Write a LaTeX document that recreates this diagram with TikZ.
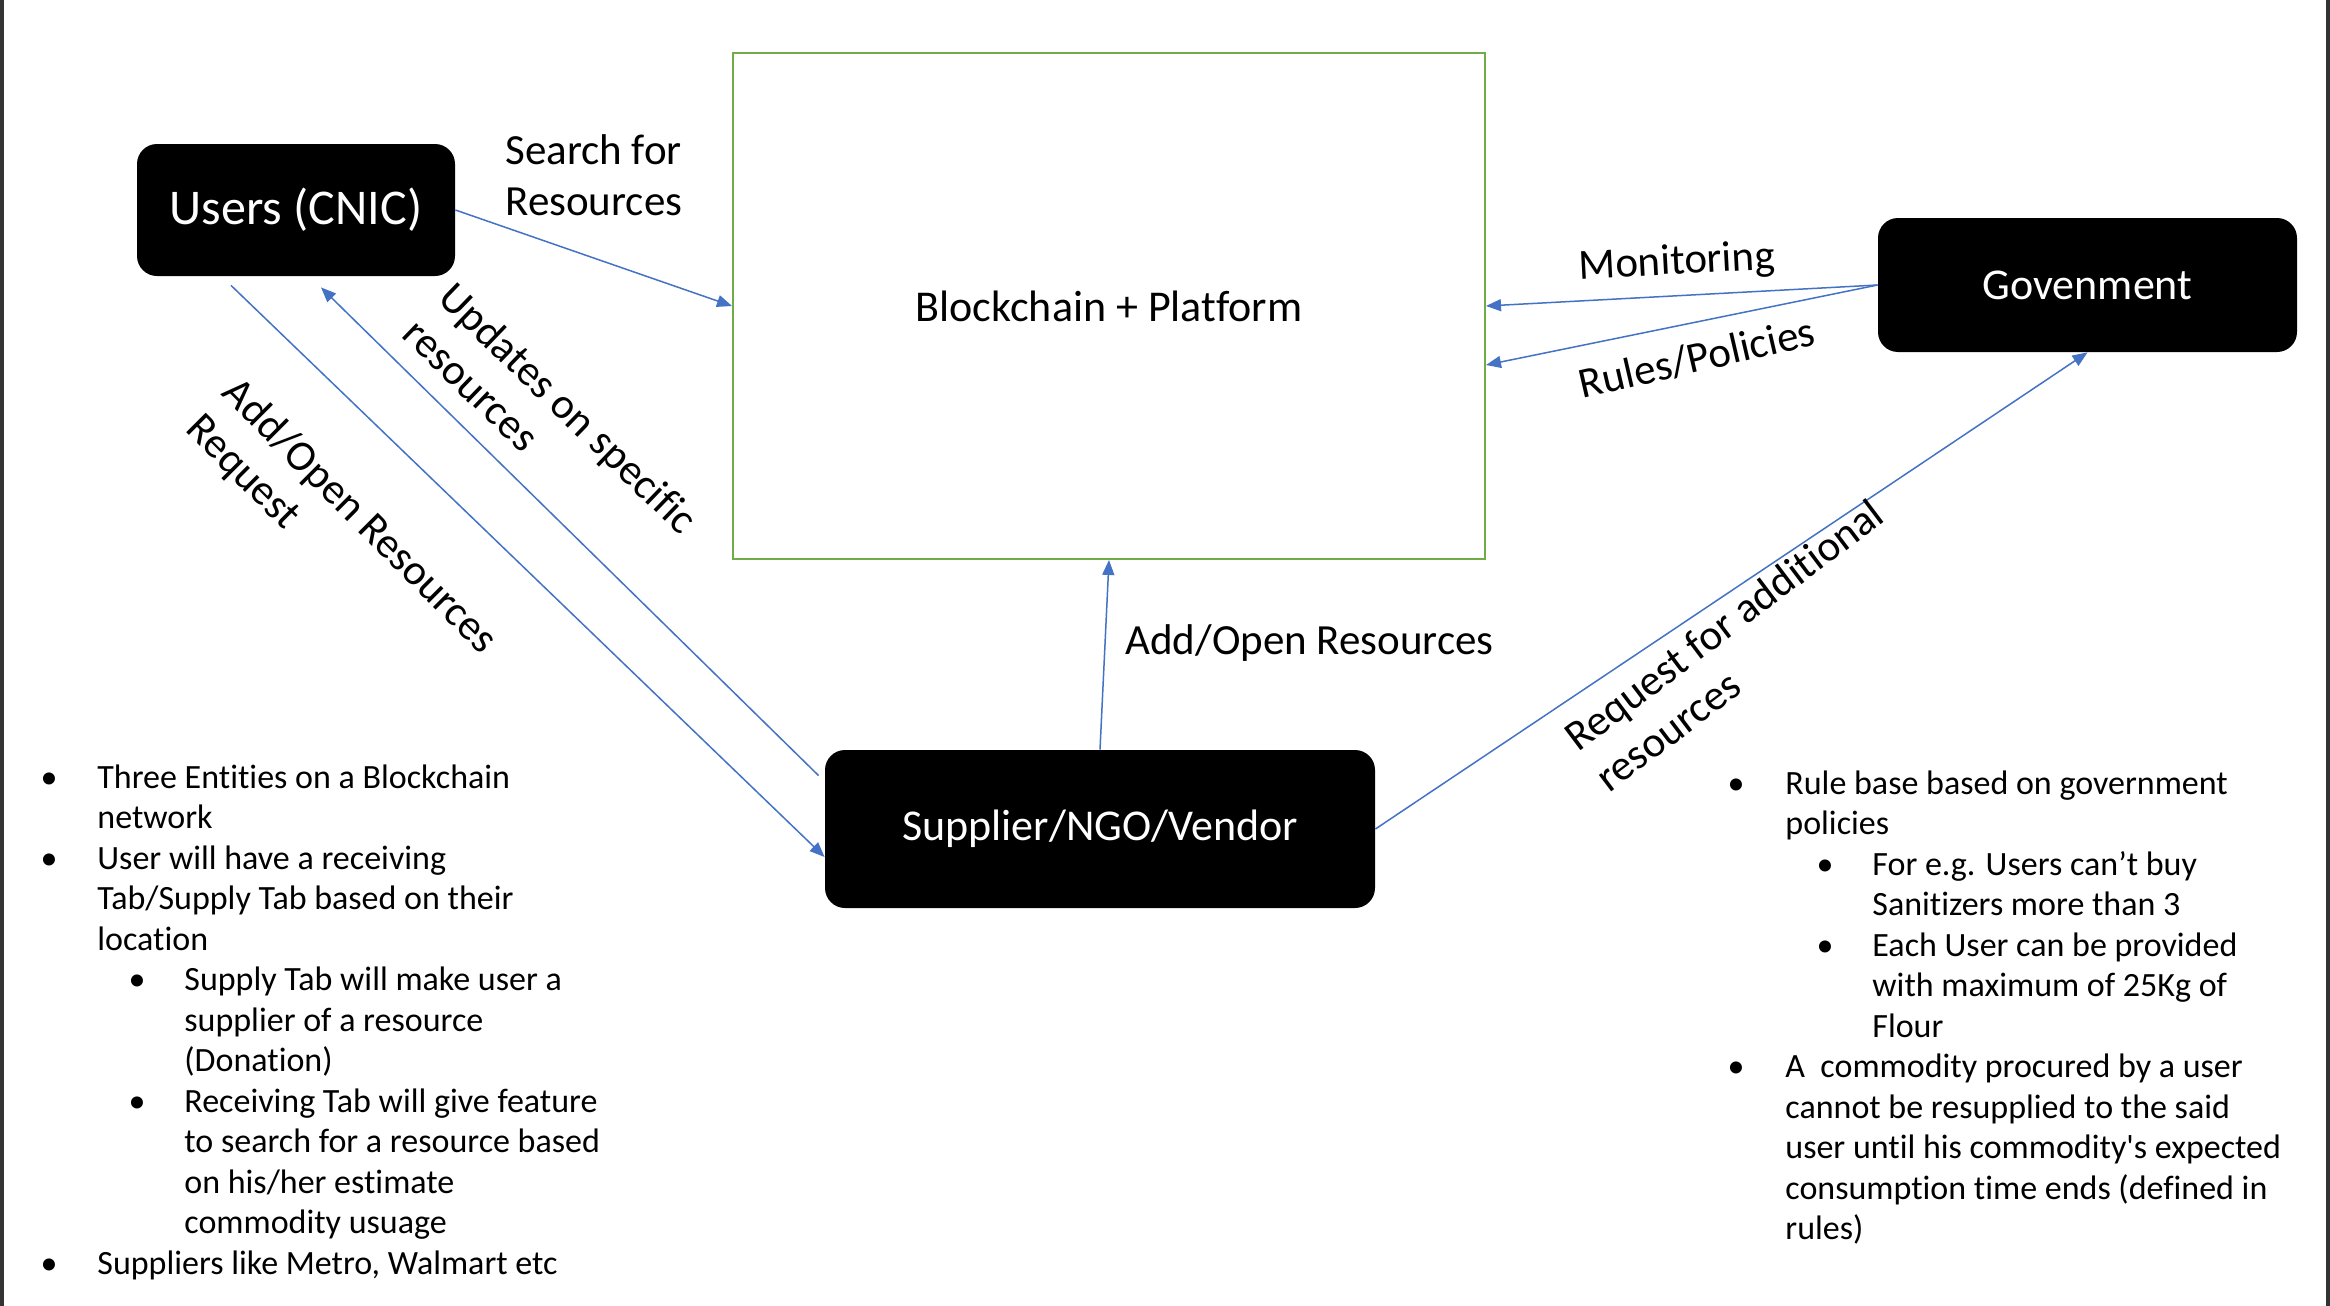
\documentclass[tikz,border=0pt]{standalone}
\usepackage{fontspec}
\setmainfont{Carlito}[Ligatures={NoCommon}]
\usetikzlibrary{arrows.meta,calc}
\definecolor{arrowblue}{HTML}{4472C4}
\definecolor{boxgreen}{HTML}{70AD47}
\definecolor{edgegray}{HTML}{333333}
\tikzset{
  ent/.style={fill=black, rounded corners=10pt, text=white, inner sep=0pt,
    font=\fontsize{22}{26}\selectfont},
  conn/.style={draw=arrowblue, line width=0.75pt},
  arr/.style={conn, -{Triangle[length=7.5pt,width=6pt]}},
  lbl/.style={font=\fontsize{21.5}{25.5}\selectfont, inner sep=0pt, align=left},
  bl/.style={font=\fontsize{17}{20}\selectfont, inner sep=0pt, anchor=base west},
  dot/.style={font=\fontsize{17}{20}\selectfont, inner sep=0pt, anchor=base},
}
\begin{document}
\begin{tikzpicture}[x=0.5pt,y=-0.5pt]
\useasboundingbox (0,0) rectangle (2330,1306);
\fill[white] (0,0) rectangle (2330,1306);
\fill[edgegray] (0,0) rectangle (4,1306);
\fill[edgegray] (2326,0) rectangle (2330,1306);

% entities
\node[draw=boxgreen, line width=1pt, minimum width=376pt, minimum height=253pt,
      inner sep=0pt, font=\fontsize{22}{26}\selectfont] (bc) at (1109,306) {Blockchain + Platform};
\node[ent, minimum width=159pt, minimum height=66pt, font=\fontsize{25}{30}\selectfont] (users) at (296,210) {Users (CNIC)};
\node[ent, minimum width=209.5pt, minimum height=67pt] (gov) at (2087.5,285) {Govenment};
\node[ent, minimum width=275pt, minimum height=79pt] (sup) at (1100,829) {Supplier/NGO/Vendor};

% connectors
\draw[arr] (users.east) -- (bc.west);
\draw[arr] ($(users.south)+(-65,9)$) -- ($(sup.west)+(0,28)$);
\draw[arr] ($(sup.north west)+(-6,26)$) -- ($(users.south)+(25,11)$);
\draw[arr] (sup.north) -- (bc.south);
\draw[arr] (gov.west) -- (bc.east);
\draw[arr] (gov.west) -- ($(bc.east)+(0,59)$);
\draw[arr] (sup.east) -- (gov.south);

% connector labels
\node[lbl, anchor=west] (lsearch) at (505,175) {Search for\\Resources};
\node[lbl, rotate=-45] (laddreq) at (341,535) {Add/Open Resources\\Request};
\node[lbl, rotate=-44] (lupd) at (551,426) {Updates on specific\\resources};
\node[lbl, anchor=west] (laddopen) at (1125,643) {Add/Open Resources};
\node[lbl, rotate=3] (lmon) at (1677,263) {Monitoring};
\node[lbl, rotate=13] (lrules) at (1697,358) {Rules/Policies};
\node[lbl, rotate=37] (lreq) at (1739,645) {Request for additional\\resources};

% left notes
\foreach \i/\x/\t in {
  0/97/{Three Entities on a Blockchain},
  1/97/{network},
  2/97/{User will have a receiving},
  3/97/{Tab/Supply Tab based on their},
  4/97/{location},
  5/184/{Supply Tab will make user a},
  6/184/{supplier of a resource},
  7/184/{(Donation)},
  8/184/{Receiving Tab will give feature},
  9/184/{to search for a resource based},
  10/184/{on his/her estimate},
  11/184/{commodity usuage},
  12/97/{Suppliers like Metro, Walmart etc}}
  \node[bl] (L\i) at (\x,{788+\i*40.5}) {\t};
\foreach \i/\x in {0/49,2/49,5/137,8/137,12/49}
  \node[dot] (LB\i) at (\x,{788+\i*40.5}) {•};

% right notes
\foreach \i/\x/\t in {
  0/1785/{Rule base based on government},
  1/1785/{policies},
  2/1872/{For e.g. Users can’t buy},
  3/1872/{Sanitizers more than 3},
  4/1872/{Each User can be provided},
  5/1872/{with maximum of 25Kg of},
  6/1872/{Flour},
  7/1785/{A\ \ commodity procured by a user},
  8/1785/{cannot be resupplied to the said},
  9/1785/{user until his commodity\textquotesingle s expected},
  10/1785/{consumption time ends (defined in},
  11/1785/{rules)}}
  \node[bl] (R\i) at (\x,{794+\i*40.5}) {\t};
\foreach \i/\x in {0/1736,2/1825,4/1825,7/1736}
  \node[dot] (RB\i) at (\x,{794+\i*40.5}) {•};
\end{tikzpicture}
\end{document}
